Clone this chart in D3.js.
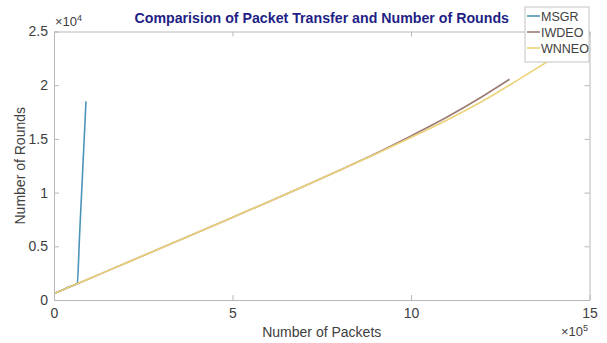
<!DOCTYPE html>
<html>
<head>
<meta charset="utf-8">
<script src="https://cdn.jsdelivr.net/npm/d3@7/dist/d3.min.js"></script>
<style>
  html, body { margin: 0; padding: 0; background: #fff; }
  svg { display: block; font-family: "Liberation Sans", Arial, Helvetica, sans-serif; }
</style>
</head>
<body>
<svg id="chart" width="607" height="343"></svg>
<script>
// Packets transferred (x) against rounds completed (y) for each protocol
const seriesNames = ["MSGR", "IWDEO", "WNNEO"];
const seriesColors = ["#4a94b8", "#9c7b74", "#ecd27a"];

const msgrPackets = [0, 20000, 40000, 65000, 72000, 80000, 89600];
const msgrRounds  = [600, 890, 1180, 1550, 6300, 11800, 18500];

const iwdeoPackets = [0, 100000, 200000, 300000, 400000, 500000, 600000, 700000, 800000, 900000, 1000000, 1100000, 1200000, 1276000];
const iwdeoRounds  = [600, 2010, 3420, 4840, 6260, 7690, 9130, 10600, 12090, 13620, 15280, 17020, 18950, 20550];

const wnneoPackets = [0, 100000, 200000, 300000, 400000, 500000, 600000, 700000, 800000, 900000, 1000000, 1100000, 1200000, 1300000, 1402000];
const wnneoRounds  = [600, 2010, 3420, 4840, 6260, 7690, 9130, 10600, 12080, 13580, 15130, 16740, 18500, 20500, 22600];

const xTickValues = [0, 500000, 1000000, 1500000];
const xTickLabels = ["0", "5", "10", "15"];
const yTickValues = [0, 5000, 10000, 15000, 20000, 25000];
const yTickLabels = ["0", "0.5", "1", "1.5", "2", "2.5"];

const titleText = "Comparision of Packet Transfer and Number of Rounds";
const xLabelText = "Number of Packets";
const yLabelText = "Number of Rounds";

const series = [
  { name: seriesNames[0], color: seriesColors[0], xs: msgrPackets, ys: msgrRounds },
  { name: seriesNames[1], color: seriesColors[1], xs: iwdeoPackets, ys: iwdeoRounds },
  { name: seriesNames[2], color: seriesColors[2], xs: wnneoPackets, ys: wnneoRounds }
];

const svg = d3.select("#chart");
const plot = { left: 54, right: 589.5, top: 31.5, bottom: 300 };

const x = d3.scaleLinear().domain([0, 1500000]).range([plot.left, plot.right]);
const y = d3.scaleLinear().domain([0, 25000]).range([plot.bottom, plot.top]);

const axisColor = "#b8b8b8";
const textColor = "#404040";
const tickLen = 5;

// data lines, clipped to the axes box
svg.append("clipPath").attr("id", "plotClip")
  .append("rect")
  .attr("x", plot.left).attr("y", plot.top)
  .attr("width", plot.right - plot.left).attr("height", plot.bottom - plot.top);

const line = d3.line().x(d => x(d[0])).y(d => y(d[1])).curve(d3.curveMonotoneX);
const lines = svg.append("g").attr("clip-path", "url(#plotClip)");
series.forEach(s => {
  const pts = s.xs.map((v, i) => [v, s.ys[i]]);
  lines.append("path")
    .attr("d", line(pts))
    .attr("fill", "none")
    .attr("stroke", s.color)
    .attr("stroke-width", 1.6)
    .attr("stroke-linejoin", "round");
});

// axes: bottom/left carry labels, top/right only ticks (box on)
function styleAxis(g) {
  g.select(".domain").attr("stroke", axisColor).attr("stroke-width", 1);
  g.selectAll(".tick line").attr("stroke", axisColor).attr("stroke-width", 1);
  g.selectAll(".tick text").attr("fill", textColor).style("font-size", "14px");
}

const xi = d3.scaleOrdinal().domain(xTickValues).range(xTickLabels);
const yi = d3.scaleOrdinal().domain(yTickValues).range(yTickLabels);

svg.append("g")
  .attr("transform", `translate(0,${plot.bottom})`)
  .call(d3.axisBottom(x).tickValues(xTickValues).tickFormat(d => xi(d))
    .tickSizeInner(-tickLen).tickSizeOuter(0).tickPadding(8))
  .call(styleAxis);

svg.append("g")
  .attr("transform", `translate(0,${plot.top})`)
  .call(d3.axisTop(x).tickValues(xTickValues).tickFormat("")
    .tickSizeInner(-tickLen).tickSizeOuter(0))
  .call(styleAxis);

svg.append("g")
  .attr("transform", `translate(${plot.left},0)`)
  .call(d3.axisLeft(y).tickValues(yTickValues).tickFormat(d => yi(d))
    .tickSizeInner(-tickLen).tickSizeOuter(0).tickPadding(6))
  .call(styleAxis);

svg.append("g")
  .attr("transform", `translate(${plot.right},0)`)
  .call(d3.axisRight(y).tickValues(yTickValues).tickFormat("")
    .tickSizeInner(-tickLen).tickSizeOuter(0))
  .call(styleAxis);

// exponent multipliers
function exponent(tx, ty, base, exp) {
  const t = svg.append("text").attr("x", tx).attr("y", ty)
    .attr("fill", textColor).style("font-size", "13px");
  t.append("tspan").text(base);
  t.append("tspan").attr("dy", -5).style("font-size", "9px").text(exp);
}
exponent(55, 26, "\u00d710", "4");
exponent(561, 336, "\u00d710", "5");

// title and axis labels
svg.append("text")
  .attr("x", (plot.left + plot.right) / 2).attr("y", 23)
  .attr("text-anchor", "middle")
  .attr("fill", "#1f1f86")
  .style("font-size", "14.2px").style("font-weight", "bold")
  .text(titleText);

svg.append("text")
  .attr("x", (plot.left + plot.right) / 2).attr("y", 337)
  .attr("text-anchor", "middle")
  .attr("fill", textColor)
  .style("font-size", "14px")
  .text(xLabelText);

svg.append("text")
  .attr("transform", `translate(25,${(plot.top + plot.bottom) / 2}) rotate(-90)`)
  .attr("text-anchor", "middle")
  .attr("fill", textColor)
  .style("font-size", "14px")
  .text(yLabelText);

// legend
const legend = svg.append("g").attr("transform", "translate(525,7)");
legend.append("rect")
  .attr("width", 64).attr("height", 55)
  .attr("fill", "#fff").attr("stroke", "#c4c4c4").attr("stroke-width", 1);
series.forEach((s, i) => {
  const cy = 9 + i * 16;
  legend.append("line")
    .attr("x1", 2).attr("x2", 15).attr("y1", cy).attr("y2", cy)
    .attr("stroke", s.color).attr("stroke-width", 1.6);
  legend.append("text")
    .attr("x", 16).attr("y", cy + 4.5)
    .attr("fill", textColor)
    .style("font-size", "12.5px")
    .text(s.name);
});
</script>
</body>
</html>
